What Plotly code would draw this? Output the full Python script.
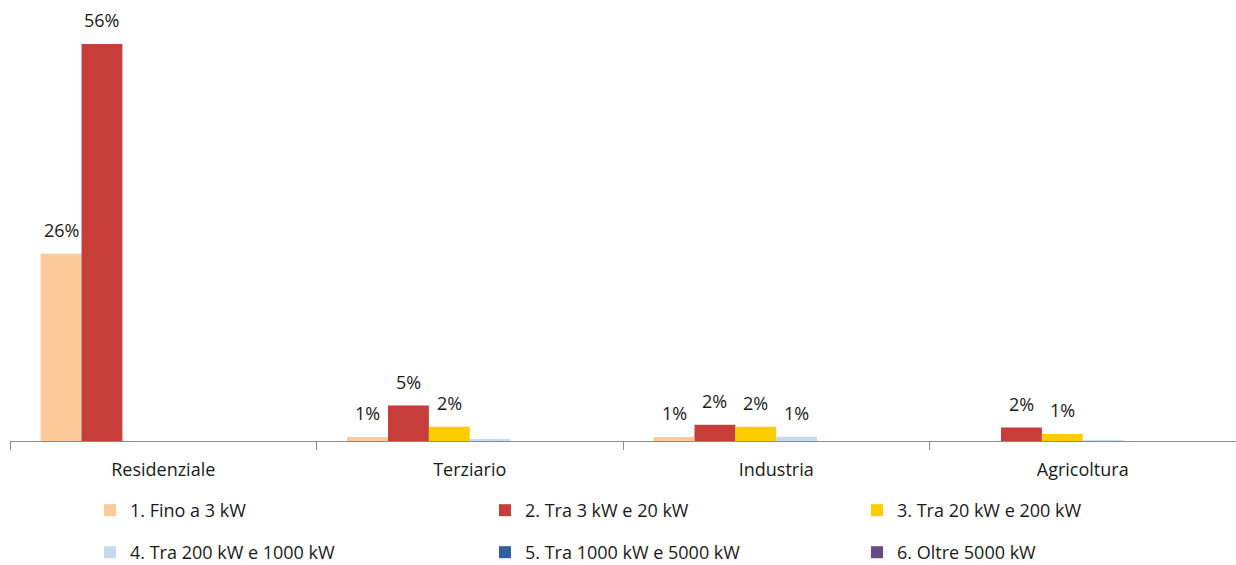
import plotly.graph_objects as go

categories = ["Residenziale", "Terziario", "Industria", "Agricoltura"]
series_names = [
    "1. Fino a 3 kW",
    "2. Tra 3 kW e 20 kW",
    "3. Tra 20 kW e 200 kW",
    "4. Tra 200 kW e 1000 kW",
    "5. Tra 1000 kW e 5000 kW",
    "6. Oltre 5000 kW",
]
s1 = [26.4, 0.55, 0.55, 0.0]
s2 = [56.0, 5.0, 2.3, 1.9]
s3 = [0.0, 2.0, 2.0, 1.0]
s4 = [0.0, 0.15, 0.6, 0.1]
s5 = [0.0, 0.0, 0.0, 0.0]
s6 = [0.0, 0.0, 0.0, 0.0]
series_values = [s1, s2, s3, s4, s5, s6]
colors = ["#FCCA98", "#C63D39", "#FFCC00", "#C6D9F1", "#2F5F9E", "#654C86"]

FONT = "Open Sans"
TXT = "#1a1a1a"
fig = go.Figure()
for i, (name, vals) in enumerate(zip(series_names, series_values)):
    fig.add_trace(go.Bar(
        x=categories, y=vals, name=name,
        marker=dict(color=colors[i], line=dict(width=0)),
        legend="legend" if i == 0 else f"legend{i + 1}",
    ))

# data labels
n = len(series_values)
width = 0.8 / n
annotations = []
for i, vals in enumerate(series_values):
    for j, v in enumerate(vals):
        r = round(v)
        if r >= 1:
            annotations.append(dict(
                x=j + (i - (n - 1) / 2) * width, y=v, xref="x", yref="y",
                text=f"{r}%", showarrow=False, yanchor="bottom", yshift=10,
                font=dict(family=FONT, size=18, color=TXT),
            ))

W, H = 1236, 565
leg_x = [90, 485, 857]
leg_top = [492, 534]
legends = {}
for i in range(n):
    col, row = i % 3, i // 3
    key = "legend" if i == 0 else f"legend{i + 1}"
    legends[key] = dict(
        orientation="h", xref="container", yref="container",
        x=leg_x[col] / W, y=1 - leg_top[row] / H,
        xanchor="left", yanchor="top",
        font=dict(family=FONT, size=18, color=TXT),
        bgcolor="rgba(0,0,0,0)", borderwidth=0, itemwidth=30,
    )

fig.update_layout(
    template="none",
    width=W, height=H,
    margin=dict(l=10, r=0, t=30, b=124),
    plot_bgcolor="white", paper_bgcolor="white",
    barmode="group", bargap=0.2, bargroupgap=0,
    showlegend=True,
    annotations=annotations,
    xaxis=dict(showline=True, linecolor="#8c8c8c", linewidth=1.3,
               ticks="outside", tickson="boundaries", ticklen=8,
               tickcolor="#8c8c8c", tickwidth=1,
               tickfont=dict(family=FONT, size=18, color=TXT),
               ticklabelstandoff=12, showgrid=False, automargin=False),
    yaxis=dict(range=[0, 57.98], visible=False, showgrid=False, zeroline=False),
    **legends,
)
fig.write_html("out.html", config={"displayModeBar": False},
               post_script="document.body.style.margin='0';")
